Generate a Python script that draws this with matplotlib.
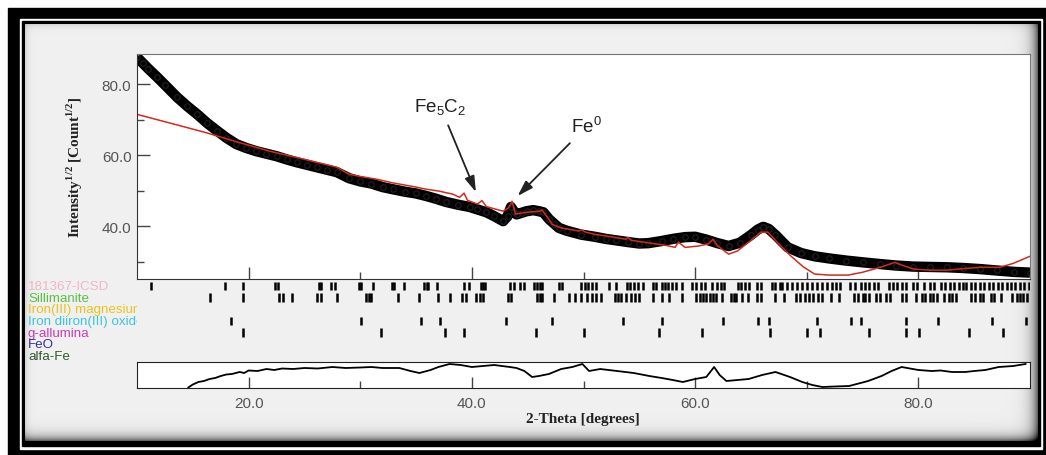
import numpy as np
import matplotlib.pyplot as plt
from matplotlib.patches import Rectangle

plt.rcParams["font.family"] = ["Liberation Sans", "DejaVu Sans"]
plt.rcParams["mathtext.fontset"] = "custom"
plt.rcParams["mathtext.rm"] = "Liberation Sans"
plt.rcParams["mathtext.sf"] = "Liberation Sans"
plt.rcParams["mathtext.bf"] = "Liberation Serif:bold"

################################################
## Data

# observed pattern, sqrt(intensity)
tt_obs = [10.0, 10.5, 11.0, 11.8, 12.5, 13.6, 14.5, 15.4, 16.3, 17.2, 18.0, 18.9,
          19.8, 20.7, 21.6, 22.5, 23.4, 24.3, 25.2, 26.1, 27.0, 27.9, 29.0, 30.0,
          31.0, 32.0, 32.9, 34.0, 35.0, 35.9, 36.8, 37.7, 38.8, 39.8, 40.5, 41.3,
          42.0, 42.8, 43.2, 43.5, 43.8, 44.0, 44.5, 44.9, 45.5, 46.0, 46.4, 46.9,
          47.4, 47.8, 48.5, 49.8, 51.0, 52.0, 52.9, 54.0, 55.0, 55.8, 57.0, 58.0,
          59.1, 60.0, 61.0, 62.0, 63.0, 64.0, 65.0, 65.6, 66.1, 66.6, 67.2, 68.3,
          69.5, 70.7, 72.0, 73.5, 75.0, 76.6, 78.0, 79.5, 81.0, 82.6, 84.0, 85.5,
          87.0, 88.6, 90.0]
i_obs = [87.6, 86.0, 84.4, 82.0, 79.8, 76.3, 73.8, 71.5, 69.0, 66.8, 64.9, 63.1,
         62.0, 61.1, 60.4, 59.7, 58.8, 58.0, 57.3, 56.6, 55.9, 55.2, 53.5, 52.6,
         52.0, 51.0, 50.4, 49.7, 49.2, 48.5, 47.7, 46.8, 46.0, 45.4, 44.7, 43.9,
         42.8, 41.4, 42.8, 45.4, 44.0, 43.3, 43.8, 44.2, 44.5, 44.2, 43.9, 42.0,
         40.6, 39.5, 38.7, 37.6, 37.0, 36.4, 36.0, 35.5, 35.1, 35.2, 35.8, 36.4,
         36.9, 37.0, 36.2, 35.2, 34.4, 35.3, 37.5, 39.0, 39.8, 39.2, 37.5, 34.0,
         32.4, 31.5, 30.9, 30.3, 29.8, 29.3, 28.9, 28.6, 28.5, 28.4, 28.2, 27.9,
         27.5, 27.1, 26.9]

# calculated pattern
tt_calc = [10.0, 13.0, 16.0, 19.0, 21.9, 24.9, 27.9, 29.0, 30.0, 31.5, 32.9, 35.0,
           35.9, 37.0, 38.3, 38.9, 39.3, 39.6, 40.5, 40.9, 41.3, 42.8, 43.3, 43.6,
           43.9, 44.9, 46.0, 46.3, 46.7, 47.2, 48.0, 49.6, 49.8, 50.2, 51.0, 52.5,
           53.8, 54.0, 54.3, 56.0, 57.5, 58.2, 58.5, 59.1, 60.3, 61.2, 61.6, 62.0,
           63.0, 63.8, 65.0, 65.9, 66.5, 67.5, 68.6, 69.7, 70.7, 72.0, 73.7, 75.0,
           76.6, 77.9, 78.7, 79.6, 81.0, 82.6, 84.0, 85.5, 87.3, 88.5, 90.0]
i_calc = [71.5, 69.0, 66.5, 63.7, 61.1, 58.9, 56.6, 54.6, 54.0, 53.2, 52.2, 51.0,
          50.4, 49.9, 49.0, 48.1, 49.3, 47.3, 46.2, 47.2, 45.5, 44.2, 45.2, 47.0,
          43.4, 43.9, 44.2, 44.5, 42.8, 40.5, 39.5, 38.6, 39.0, 38.3, 37.7, 37.0,
          36.3, 36.8, 36.0, 35.2, 34.5, 34.0, 35.5, 34.0, 34.4, 35.0, 36.3, 34.5,
          32.1, 33.0, 36.0, 38.3, 38.3, 35.0, 31.5, 28.5, 26.5, 26.2, 26.2, 27.0,
          28.4, 29.8, 28.8, 27.9, 27.6, 27.6, 28.0, 28.4, 28.4, 29.5, 31.5]

# difference curve (obs - calc, arbitrary units)
tt_diff = [14.6, 15.0, 15.5, 16.0, 16.5, 17.0, 17.5, 18.0, 18.5, 19.2, 19.6, 20.0,
           20.8, 21.6, 22.3, 23.0, 24.0, 25.0, 26.2, 27.5, 28.7, 30.0, 31.0, 32.0,
           33.5, 34.5, 35.3, 36.3, 37.0, 38.0, 39.0, 40.0, 41.0, 42.0, 43.4, 44.0,
           44.7, 45.4, 46.0, 46.9, 48.0, 49.0, 49.9, 50.5, 51.5, 53.0, 54.5, 55.9,
           57.0, 58.0, 58.9, 60.0, 61.0, 61.7, 62.2, 62.8, 63.8, 64.8, 66.0, 67.2,
           68.5, 69.6, 70.5, 71.4, 72.5, 73.8, 75.5, 76.7, 77.6, 78.5, 80.0, 81.2,
           82.0, 83.0, 84.2, 85.0, 86.0, 87.2, 88.5, 89.6]
i_diff = [-12.5, -9.5, -7.0, -6.0, -4.0, -3.0, -1.0, 0.5, 1.0, 3.0, 2.0, 4.5,
          4.0, 6.0, 5.0, 6.5, 6.0, 7.0, 6.5, 8.0, 7.0, 7.5, 8.0, 7.0,
          7.0, 4.0, 2.0, 5.0, 8.0, 11.0, 10.0, 8.0, 9.0, 10.0, 8.0, 7.0,
          4.0, -2.0, -1.0, 1.0, 6.0, 8.0, 11.0, 4.0, 6.0, 4.0, 2.0, -1.0,
          -3.0, -5.0, -7.0, -4.0, -2.0, 8.0, 0.0, -6.0, -5.0, -4.0, 0.0, 3.0,
          -2.0, -7.0, -10.0, -12.0, -11.5, -11.0, -6.0, -1.0, 4.0, 8.0, 5.0, 4.0,
          4.5, 3.0, 3.0, 4.0, 5.0, 8.0, 9.0, 11.0]

# phase names and reflection positions
phase_names = ["181367-ICSD", "Sillimanite", "Iron(III) magnesium", "Iron diiron(III) oxide",
               "g-allumina", "FeO", "alfa-Fe"]
phase_colors = ["#f4b4c4", "#5cc040", "#e8c41c", "#3cc4e0", "#c83cb4", "#343494", "#2e5a2e"]

peaks_icsd = [11.25, 17.9, 19.5, 22.4, 22.6, 26.3, 26.5, 27.4, 27.7, 29.9, 30.1, 31.1,
              32.8, 33.0, 33.9, 35.7, 36.0, 36.1, 36.9, 39.3, 39.7, 40.8, 41.0, 41.2,
              43.4, 43.8, 44.3, 44.7, 45.6, 45.8, 46.1, 46.3, 47.8, 48.1, 49.8, 50.1,
              50.4, 50.8, 51.1, 52.3, 52.9, 53.9, 54.2, 54.5, 54.9, 55.3, 56.2, 56.5,
              57.0, 57.3, 57.6, 57.9, 58.3, 58.8, 59.7, 60.1, 60.5, 60.9, 61.5, 62.0,
              62.3, 62.6, 63.8, 64.1, 64.5, 64.8, 65.5, 65.9, 66.9, 67.2, 67.6, 67.8,
              68.2, 68.7, 69.1, 69.6, 70.0, 70.5, 70.9, 71.4, 71.8, 72.3, 72.6, 73.0,
              73.9, 74.3, 74.9, 75.2, 75.6, 76.0, 76.4, 77.4, 77.7, 78.1, 78.5, 78.9,
              79.5, 79.9, 80.5, 81.0, 81.4, 82.0, 82.4, 82.8, 83.2, 83.6, 84.0, 84.3,
              84.7, 85.1, 85.5, 85.9, 86.3, 86.7, 87.1, 87.5, 87.9, 88.3, 88.7, 89.1,
              89.5, 89.9]
peaks_sill = [16.5, 19.5, 22.7, 23.1, 23.9, 26.1, 26.5, 27.9, 30.5, 30.8, 31.0, 33.4,
              35.3, 37.0, 38.0, 39.1, 39.5, 40.4, 40.7, 41.0, 43.2, 43.5, 45.8, 46.1,
              46.3, 47.4, 48.7, 49.2, 49.8, 50.3, 50.8, 51.1, 51.6, 52.8, 53.1, 53.4,
              53.8, 54.3, 54.6, 55.0, 56.2, 57.0, 57.7, 58.8, 60.1, 60.4, 60.7, 61.0,
              61.3, 61.6, 61.9, 62.4, 63.2, 63.5, 63.7, 64.2, 64.7, 65.5, 65.9, 67.2,
              68.0, 69.0, 69.4, 69.8, 70.2, 70.6, 71.0, 71.4, 72.2, 72.9, 74.2, 74.6,
              75.0, 75.2, 75.6, 76.2, 76.6, 77.1, 77.5, 78.5, 78.9, 79.8, 80.3, 80.6,
              81.0, 81.3, 81.7, 82.3, 82.7, 83.0, 83.4, 84.7, 85.1, 85.5, 85.8, 86.5,
              86.8, 87.4, 88.4, 88.8, 89.1, 89.4, 89.7]
peaks_magnesium = []
peaks_diiron = [18.4, 30.1, 35.4, 37.1, 43.1, 47.2, 53.5, 57.0, 62.5, 65.6, 66.6, 70.9,
                74.0, 74.9, 78.9, 81.8, 86.6, 89.6]
peaks_allumina = [19.5, 31.9, 37.6, 39.3, 45.7, 50.0, 56.8, 60.6, 66.7, 70.0, 71.2, 75.6,
                  78.9, 80.1, 84.5, 87.6]
peaks_feo = []
peaks_alfafe = []
phase_peaks = [peaks_icsd, peaks_sill, peaks_magnesium, peaks_diiron,
               peaks_allumina, peaks_feo, peaks_alfafe]

################################################
## Figure

W, H = 1046, 456
fig = plt.figure(figsize=(W / 100, H / 100), dpi=100)
fig.patch.set_facecolor("white")


def px_axes(x0, y0, x1, y1, **kw):
    # axes from pixel box (top-left origin)
    return fig.add_axes([x0 / W, 1 - y1 / H, (x1 - x0) / W, (y1 - y0) / H], **kw)


## frame and grey panel
bg = fig.add_axes([0, 0, 1, 1], zorder=-10)
bg.add_patch(Rectangle((8, 9), W - 8, H - 9, color="black", zorder=1))
bg.add_patch(Rectangle((20, 20), 1022, 430, color="white", zorder=1))
bg.add_patch(Rectangle((22, 22), 1018, 425, color="black", zorder=1))
px0, py0, px1, py1 = 25, 25, 1038, 442
xx = np.arange(px0, px1) + 0.5
yy = np.arange(py0, py1) + 0.5
X, Y = np.meshgrid(xx, yy)
shade = (0.6 * np.exp(-(px1 - X) / 6.0) + 0.6 * np.exp(-(py1 - Y) / 5.0)
         + 0.12 * np.exp(-(X - px0) / 3.0) + 0.12 * np.exp(-(Y - py0) / 3.0))
panel = np.clip(0.94 - shade, 0, 1)
bg.imshow(panel, cmap="gray", vmin=0, vmax=1, extent=(px0, px1, py1, py0),
          interpolation="bilinear", aspect="auto", zorder=2)
bg.set_xlim(0, W)
bg.set_ylim(H, 0)
bg.axis("off")

tick_col = "#444444"
lab_col = "#555555"

## main pattern
ax = px_axes(137, 55, 1030, 280)
ax.set_facecolor("white")
ax.plot(tt_obs, i_obs, color="black", lw=7.5, solid_capstyle="butt",
        solid_joinstyle="round")
ax.plot(tt_obs, i_obs, ls="none", marker="o", ms=4, mfc="none", mec="#222222",
        mew=0.8)
ax.plot(tt_calc, i_calc, color="#d42a1e", lw=1.1)
ax.set_xlim(10, 90)
ax.set_ylim(25.1, 88.5)
ax.set_yticks([40, 60, 80])
ax.set_yticklabels(["40.0", "60.0", "80.0"])
ax.set_yticks([30, 50, 70], minor=True)
ax.set_xticks([20, 40, 60, 80])
ax.set_xticks([30, 50, 70], minor=True)
ax.tick_params(which="both", direction="in", colors=tick_col, labelcolor=lab_col,
               labelsize=11, pad=4, labelbottom=False)
ax.tick_params(which="major", length=9, width=1)
ax.tick_params(which="minor", length=5, width=1)
for s in ["left", "bottom"]:
    ax.spines[s].set_color("#333333")
for s in ["top", "right"]:
    ax.spines[s].set_color("#777777")

arrow = dict(arrowstyle="-|>,head_length=0.7,head_width=0.22", color="#222222",
             lw=1.3, shrinkA=4, shrinkB=0)
ax.annotate(r"Fe$_\mathsf{5}$C$_\mathsf{2}$", xy=(40.36, 49.6), xytext=(37.2, 73.5),
            ha="center", va="center", fontsize=13.5, color="#222222",
            arrowprops=arrow)
ax.annotate(r"Fe$^\mathsf{0}$", xy=(44.1, 48.5), xytext=(50.3, 68.2),
            ha="center", va="center", fontsize=13.5, color="#222222",
            arrowprops=arrow)

## reflection markers
axr = px_axes(137, 281, 1030, 363)
axr.set_xlim(10, 90)
axr.set_ylim(len(phase_peaks) - 0.5, -0.5)
axr.axis("off")
for i, pk in enumerate(phase_peaks):
    if pk:
        axr.vlines(pk, i - 0.36, i + 0.36, color="black", lw=1.8)

## phase names (clipped at the plot edge)
axl = px_axes(28, 281, 137, 363)
axl.set_xlim(0, 1)
axl.set_ylim(len(phase_peaks) - 0.5, -0.5)
axl.axis("off")
for i, (name, col) in enumerate(zip(phase_names, phase_colors)):
    axl.text(0.0, i, name, color=col, fontsize=9.6, ha="left", va="center",
             clip_on=True)

## difference curve
axd = px_axes(137, 363, 1030, 389)
axd.set_facecolor("white")
axd.plot(tt_diff, i_diff, color="black", lw=1.3)
axd.set_xlim(10, 90)
axd.set_ylim(-13, 13)
axd.set_yticks([])
axd.set_xticks([20, 40, 60, 80])
axd.set_xticklabels(["20.0", "40.0", "60.0", "80.0"])
axd.set_xticks([30, 50, 70], minor=True)
axd.tick_params(which="both", direction="in", colors=tick_col, labelcolor=lab_col,
                labelsize=11, pad=6)
axd.tick_params(which="major", length=8, width=1)
axd.tick_params(which="minor", length=5, width=1)
for s in axd.spines.values():
    s.set_color("#222222")

## axis titles
fig.text(583 / W, 1 - 420 / H, "2-Theta [degrees]", family="Liberation Serif",
         weight="bold", size=11, color="#222222", ha="center", va="center")
fig.text(75 / W, 1 - 167 / H, r"Intensity$^{\mathbf{1/2}}$ [Count$^{\mathbf{1/2}}$]",
         family="Liberation Serif", weight="bold", size=11, color="#222222",
         rotation=90, ha="center", va="center")

fig.savefig("out.png", dpi=100)
